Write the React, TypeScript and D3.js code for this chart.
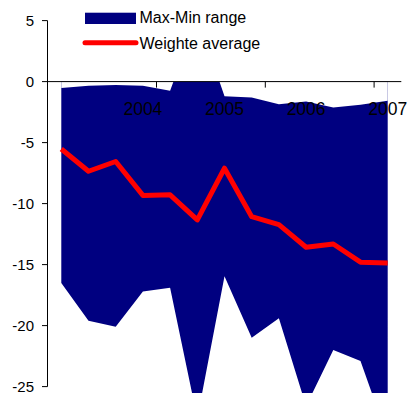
import React from "react";
import * as d3 from "d3";

const periods = ["p1", "p2", "p3", "2004", "p5", "p6", "2005", "p8", "p9", "2006", "p11", "p12", "2007"];
const tickLabels = ["2004", "2005", "2006", "2007"];
const yTicks = [5, 0, -5, -10, -15, -20, -25];
const maxValues = [-0.52, -0.33, -0.27, -0.35, -0.74, 5.3, -1.2, -1.31, -1.86, -1.64, -2.13, -1.89, -1.56];
const minValues = [-16.5, -19.6, -20.1, -17.2, -16.9, -27.6, -15.95, -21.0, -19.4, -26.6, -22.0, -22.9, -29.2];
const avgValues = [-5.52, -7.35, -6.55, -9.33, -9.28, -11.34, -7.1, -11.07, -11.72, -13.58, -13.31, -14.8, -14.86];

const W = 408;
const H = 393;

export default function App() {
  const x = d3.scaleBand<string>().domain(periods).range([47.7, 401.3]).padding(0);
  const y = d3.scaleLinear().domain([-25, 5]).range([386.6, 20.6]);
  const cx = (i: number) => (x(periods[i]) as number) + x.bandwidth() / 2;
  const y0 = y(0);

  const idx = d3.range(periods.length);
  const minArea = d3.area<number>().x((i) => cx(i)).y0(y0).y1((i) => y(minValues[i]))(idx) as string;
  const maxArea = d3.area<number>().x((i) => cx(i)).y0(y0).y1((i) => y(maxValues[i]))(idx) as string;
  const avgLine = d3.line<number>().x((i) => cx(i)).y((i) => y(avgValues[i]))(idx) as string;

  const tickMarkIdx = idx.filter((i) => i % 4 === 0 && i > 0);
  const font = "'Liberation Sans', Arial, sans-serif";

  return (
    <svg
      width={W}
      height={H}
      style={{ position: "absolute", left: 0, top: 0, overflow: "hidden", background: "#fff" }}
    >
      <path d={minArea} fill="#000080" />
      <path d={maxArea} fill="#ffffff" />
      {/* x axis */}
      <line x1={47.7} x2={401.3} y1={y0} y2={y0} stroke="#000" strokeWidth={1} />
      {tickMarkIdx.map((i) => (
        <line key={i} x1={x(periods[i])} x2={x(periods[i])} y1={y0} y2={y0 + 6} stroke="#000" />
      ))}
      {tickLabels.map((t) => (
        <text key={t} x={cx(periods.indexOf(t))} y={115} textAnchor="middle" fontFamily={font} fontSize={17.5} fill="#000">
          {t}
        </text>
      ))}
      {/* y axis */}
      <line x1={47.5} x2={47.5} y1={y(5)} y2={y(-25)} stroke="#000" strokeWidth={1} />
      {yTicks.map((t) => (
        <g key={t}>
          <line x1={42} x2={47.5} y1={y(t)} y2={y(t)} stroke="#000" />
          <text x={34} y={y(t) + 5} textAnchor="end" fontFamily={font} fontSize={15} fill="#000">
            {t}
          </text>
        </g>
      ))}
      <path d={avgLine} fill="none" stroke="#ff0000" strokeWidth={5} strokeLinejoin="round" />
      {/* legend */}
      <rect x={85} y={12.7} width={51} height={11.3} fill="#000080" />
      <text x={139.5} y={22.8} fontFamily={font} fontSize={16} fill="#000">Max-Min range</text>
      <line x1={85} x2={136} y1={42.7} y2={42.7} stroke="#ff0000" strokeWidth={5} strokeLinecap="round" />
      <text x={139.5} y={49.3} fontFamily={font} fontSize={16} fill="#000">Weighte average</text>
    </svg>
  );
}
